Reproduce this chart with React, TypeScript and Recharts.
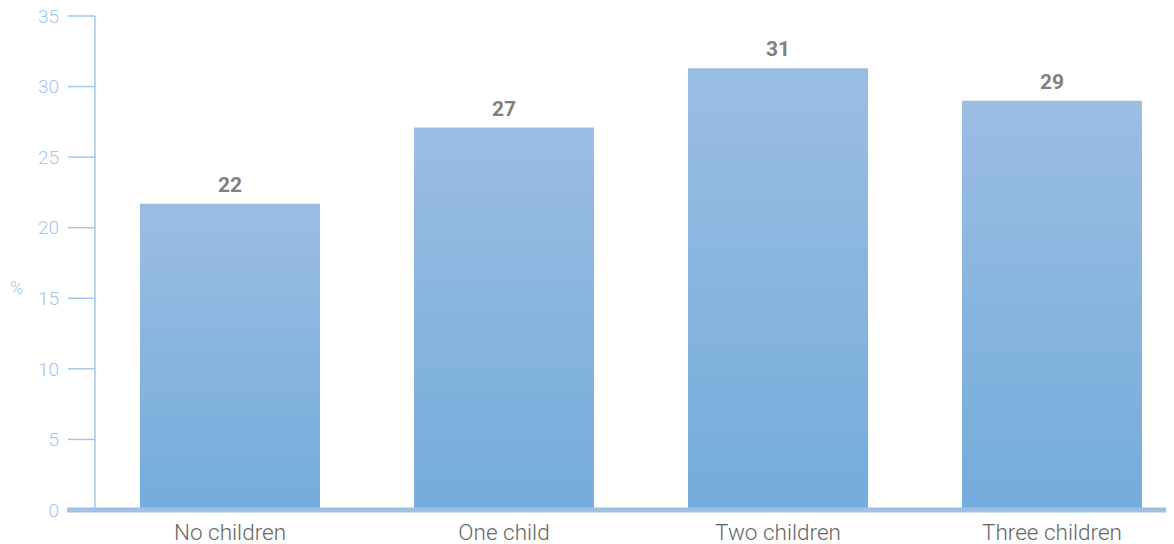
import { BarChart, Bar, XAxis, YAxis, LabelList, ReferenceLine, Label } from 'recharts'

const categories = ['No children', 'One child', 'Two children', 'Three children']
const values = [21.7, 27.1, 31.3, 29.0]
const labels = ['22', '27', '31', '29']
const yTicks = [0, 5, 10, 15, 20, 25, 30, 35]

const data = categories.map((name, i) => ({ name, value: values[i], label: labels[i] }))

const FONT = 'Roboto, "Liberation Sans", sans-serif'

function BaseLine(props: any) {
  const { x1, x2, y1 } = props
  return <line x1={x1 - 28} x2={x2} y1={y1} y2={y1} stroke="#9dc0e4" strokeWidth={5} />
}

export default function App() {
  return (
    <div style={{ width: 1166, height: 536 }}>
      <BarChart
        width={1166}
        height={536}
        data={data}
        margin={{ top: 8, right: 8, left: 0, bottom: 0 }}
      >
        <defs>
          <linearGradient id="barFill" x1="0" y1="0" x2="0" y2="1">
            <stop offset="0%" stopColor="#9bbde3" />
            <stop offset="100%" stopColor="#74acdb" />
          </linearGradient>
        </defs>
        <XAxis
          dataKey="name"
          padding={{ left: -2, right: -23 }}
          axisLine={false}
          tickLine={false}
          height={34}
          tickMargin={8}
          tick={{ fill: '#666666', fontSize: 22.5, fontFamily: FONT, fontWeight: 300 }}
        />
        <YAxis
          width={87}
          domain={[0, 35]}
          ticks={yTicks}
          interval={0}
          tickSize={27}
          tickMargin={9}
          axisLine={{ stroke: '#a3c6ee', strokeWidth: 1.5 }}
          tickLine={{ stroke: '#a3c6ee', strokeWidth: 1.5 }}
          tick={{ fill: '#a3c6ee', fontSize: 19, fontFamily: FONT, fontWeight: 300 }}
        >
          <Label
            value="%"
            position="insideLeft"
            offset={2}
            dy={25}
            fill="#a3c6ee"
            fontSize={18}
            fontFamily={FONT}
            fontWeight={300}
          />
        </YAxis>
        <Bar dataKey="value" fill="url(#barFill)" barSize={180} isAnimationActive={false}>
          <LabelList
            dataKey="label"
            position="top"
            offset={12}
            fill="#808080"
            fontSize={21}
            fontWeight={700}
            fontFamily={FONT}
          />
        </Bar>
        <ReferenceLine y={0} ifOverflow="visible" shape={BaseLine} />
      </BarChart>
    </div>
  )
}
